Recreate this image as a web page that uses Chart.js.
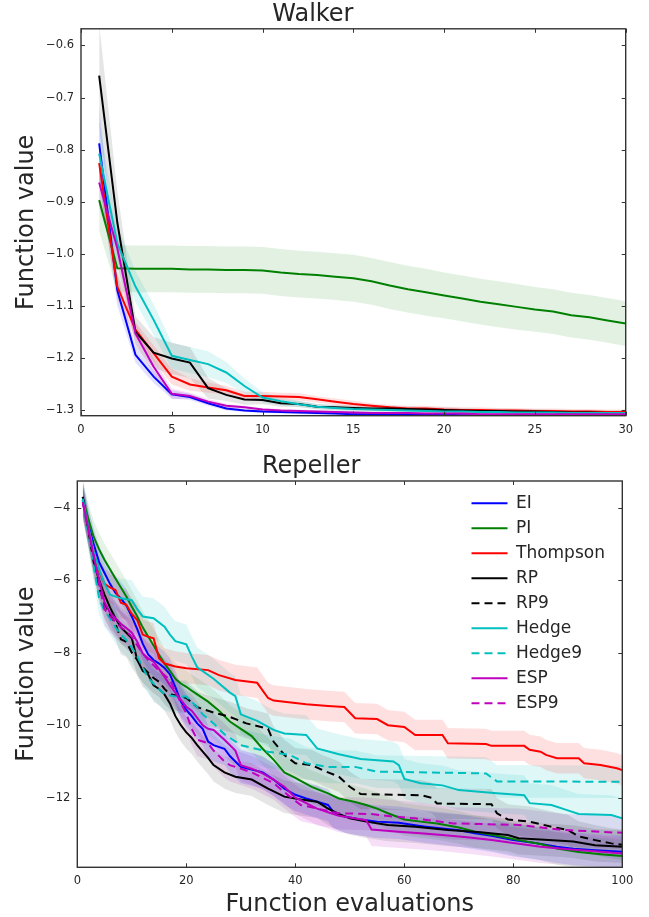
<!DOCTYPE html>
<html><head><meta charset="utf-8">
<script src="https://cdn.jsdelivr.net/npm/chart.js@4.4.1/dist/chart.umd.min.js"></script>
<style>
html,body{margin:0;padding:0;background:#fff;}
#wrap{position:relative;width:649px;height:917px;background:#fff;}
#c1{position:absolute;left:0;top:0;}
#c2{position:absolute;left:0;top:445px;}
</style></head><body>
<div id="wrap"><canvas id="c1" width="649" height="445"></canvas><canvas id="c2" width="649" height="472"></canvas></div>
<script>
// ---------------- DATA: Walker (top) ----------------
const walkerTitle = 'Walker';
const walkerX = [1,2,3,4,5,6,7,8,9,10,11,12,13,14,15,16,17,18,19,20,21,22,23,24,25,26,27,28,29,30];
const walkerEI = [-0.788,-1.07,-1.194,-1.236,-1.27,-1.275,-1.287,-1.297,-1.301,-1.303,-1.304,-1.305,-1.306,-1.307,-1.308,-1.308,-1.309,-1.309,-1.309,-1.309,-1.31,-1.31,-1.31,-1.31,-1.31,-1.31,-1.31,-1.31,-1.31,-1.31];
const walkerPI = [-0.897,-1.028,-1.029,-1.029,-1.029,-1.03,-1.03,-1.031,-1.031,-1.032,-1.036,-1.039,-1.041,-1.044,-1.047,-1.053,-1.061,-1.068,-1.074,-1.08,-1.086,-1.092,-1.097,-1.102,-1.107,-1.111,-1.118,-1.122,-1.128,-1.134];
const walkerThompson = [-0.826,-1.063,-1.146,-1.191,-1.236,-1.251,-1.257,-1.262,-1.273,-1.273,-1.274,-1.275,-1.2795,-1.284,-1.2885,-1.292,-1.295,-1.297,-1.297,-1.299,-1.3,-1.3,-1.301,-1.301,-1.302,-1.302,-1.303,-1.303,-1.304,-1.304];
const walkerRP = [-0.658,-0.94,-1.15,-1.19,-1.201,-1.209,-1.258,-1.271,-1.28,-1.281,-1.287,-1.2885,-1.2937,-1.295,-1.296,-1.297,-1.297,-1.298,-1.299,-1.3,-1.301,-1.302,-1.302,-1.303,-1.303,-1.304,-1.305,-1.305,-1.306,-1.306];
const walkerHedge = [-0.808,-0.98,-1.063,-1.127,-1.196,-1.204,-1.212,-1.228,-1.254,-1.276,-1.283,-1.289,-1.2937,-1.296,-1.298,-1.299,-1.3,-1.301,-1.302,-1.303,-1.303,-1.304,-1.304,-1.305,-1.305,-1.305,-1.306,-1.306,-1.306,-1.306];
const walkerESP = [-0.863,-0.99,-1.153,-1.217,-1.269,-1.273,-1.284,-1.292,-1.295,-1.299,-1.301,-1.302,-1.303,-1.304,-1.305,-1.306,-1.306,-1.306,-1.307,-1.307,-1.307,-1.308,-1.308,-1.308,-1.308,-1.308,-1.308,-1.308,-1.308,-1.308];
// half-widths of shaded bands
const walkerEIErr = [0.07,0.03,0.015,0.012,0.008,0.006,0.005,0.004,0.003,0.003,0.003,0.003,0.003,0.003,0.003,0.003,0.003,0.003,0.003,0.003,0.003,0.003,0.003,0.003,0.003,0.003,0.003,0.003,0.003,0.003];
const walkerPIErr = [0.06,0.045,0.045,0.045,0.045,0.045,0.045,0.045,0.045,0.045,0.045,0.045,0.045,0.045,0.045,0.045,0.045,0.045,0.045,0.044,0.044,0.044,0.044,0.044,0.043,0.043,0.043,0.043,0.043,0.043];
const walkerThompsonErr = [0.04,0.025,0.015,0.015,0.015,0.012,0.01,0.008,0.008,0.008,0.007,0.007,0.006,0.006,0.006,0.005,0.005,0.005,0.005,0.005,0.005,0.005,0.005,0.005,0.005,0.005,0.005,0.005,0.005,0.005];
const walkerRPErr = [0.1,0.06,0.03,0.03,0.03,0.03,0.02,0.012,0.01,0.008,0.007,0.006,0.005,0.005,0.005,0.005,0.005,0.005,0.005,0.005,0.005,0.005,0.005,0.005,0.005,0.005,0.005,0.005,0.005,0.005];
const walkerHedgeErr = [0.06,0.035,0.03,0.03,0.025,0.025,0.025,0.02,0.015,0.01,0.008,0.006,0.005,0.005,0.005,0.005,0.005,0.005,0.005,0.005,0.005,0.005,0.005,0.005,0.005,0.005,0.005,0.005,0.005,0.005];
const walkerESPErr = [0.05,0.03,0.02,0.015,0.01,0.006,0.005,0.004,0.003,0.003,0.003,0.003,0.003,0.003,0.003,0.003,0.003,0.003,0.003,0.003,0.003,0.003,0.003,0.003,0.003,0.003,0.003,0.003,0.003,0.003];
const walkerXTicks = [0,5,10,15,20,25,30];
const walkerYTicks = [-1.3,-1.2,-1.1,-1.0,-0.9,-0.8,-0.7,-0.6];

// ---------------- DATA: Repeller (bottom) ----------------
const repTitle = 'Repeller';
const repEI = [[1,-3.7],[2,-4.45],[3,-5.0],[4,-5.5],[5,-5.8],[6,-6.1],[7,-6.35],[8,-6.5],[9,-6.7],[10,-7.0],[11,-7.35],[12,-7.75],[13,-8.05],[14,-8.2],[15,-8.3],[16,-8.42],[17,-8.6],[18,-8.95],[19,-9.35],[20,-9.58],[21,-9.75],[22,-9.95],[23,-10.1],[24,-10.45],[25,-10.55],[27,-10.65],[28,-10.85],[30,-11.15],[32,-11.22],[34,-11.3],[36,-11.5],[38,-11.75],[40,-11.92],[42,-12.02],[44,-12.11],[46,-12.2],[47,-12.4],[49,-12.52],[52,-12.6],[55,-12.66],[59,-12.69],[62,-12.76],[64,-12.8],[67,-12.85],[70,-12.9],[73,-12.98],[76,-13.05],[80,-13.17],[84,-13.25],[88,-13.35],[91,-13.41],[95,-13.45],[100,-13.49]];
const repPI = [[1,-3.75],[2,-4.3],[3,-4.8],[4,-5.15],[5,-5.44],[6,-5.7],[7,-5.95],[8,-6.2],[9,-6.45],[10,-6.73],[11,-7.0],[12,-7.3],[13,-7.55],[14,-7.8],[15,-8.06],[16,-8.3],[17,-8.5],[18,-8.72],[19,-8.85],[20,-8.94],[21,-9.05],[22,-9.15],[24,-9.35],[26,-9.6],[28,-9.9],[30,-10.1],[32,-10.3],[34,-10.65],[36,-10.95],[38,-11.3],[40,-11.45],[43,-11.7],[46,-11.88],[48,-12.02],[51,-12.12],[53,-12.2],[55,-12.3],[57,-12.43],[60,-12.6],[63,-12.66],[66,-12.71],[70,-12.82],[73,-12.94],[77,-13.05],[81,-13.17],[85,-13.28],[88,-13.4],[92,-13.5],[96,-13.56],[100,-13.61]];
const repThompson = [[1,-3.8],[2,-4.55],[3,-5.2],[4,-5.75],[5,-6.1],[6,-6.2],[7,-6.27],[8,-6.62],[9,-6.68],[10,-6.93],[11,-7.1],[12,-7.5],[13,-7.56],[14,-7.6],[15,-8.15],[16,-8.3],[18,-8.38],[20,-8.43],[24,-8.48],[26,-8.62],[29,-8.75],[33,-8.83],[35,-9.25],[36,-9.32],[42,-9.42],[46,-9.47],[49,-9.5],[51,-9.81],[55,-9.83],[57,-10.0],[60,-10.05],[62,-10.27],[67,-10.27],[68,-10.5],[75,-10.52],[76,-10.57],[82,-10.57],[83,-10.68],[85,-10.73],[86,-10.82],[88,-10.91],[92,-10.91],[93,-11.05],[96,-11.1],[99,-11.19],[100,-11.24]];
const repRP = [[1,-3.7],[2,-4.6],[3,-5.5],[4,-6.0],[5,-6.4],[6,-6.75],[7,-7.05],[8,-7.3],[9,-7.45],[10,-7.6],[11,-8.2],[12,-8.5],[13,-8.6],[14,-8.9],[15,-9.0],[16,-9.15],[17,-9.4],[18,-9.75],[19,-10.0],[20,-10.2],[21,-10.35],[22,-10.55],[24,-10.9],[25,-11.1],[27,-11.3],[29,-11.42],[32,-11.5],[35,-11.75],[38,-11.97],[41,-12.05],[44,-12.11],[46,-12.3],[48,-12.45],[50,-12.57],[53,-12.66],[57,-12.75],[62,-12.8],[68,-12.89],[74,-12.95],[79,-13.03],[81,-13.12],[88,-13.18],[91,-13.21],[95,-13.31],[100,-13.35]];
const repRP9 = [[1,-3.8],[2,-4.6],[3,-5.4],[4,-6.2],[5,-6.65],[6,-6.95],[7,-7.2],[8,-7.63],[9,-7.7],[10,-8.0],[11,-8.2],[12,-8.4],[13,-8.55],[14,-8.7],[15,-8.8],[16,-9.0],[17,-9.15],[19,-9.2],[20,-9.25],[22,-9.5],[25,-9.65],[28,-9.77],[31,-9.95],[33,-10.02],[35,-10.1],[36,-10.45],[38,-10.82],[40,-11.05],[43,-11.1],[45,-11.24],[48,-11.42],[50,-11.7],[52,-11.9],[63,-11.93],[65,-12.0],[66,-12.16],[76,-12.18],[77,-12.43],[79,-12.6],[83,-12.66],[87,-12.8],[90,-12.89],[92,-13.07],[95,-13.17],[98,-13.26],[100,-13.3]];
const repHedge = [[1,-3.75],[2,-4.5],[3,-5.2],[4,-5.7],[5,-6.1],[6,-6.4],[8,-6.5],[10,-6.55],[11,-6.8],[12,-7.0],[14,-7.05],[16,-7.28],[17,-7.5],[18,-7.68],[20,-7.77],[21,-8.1],[22,-8.4],[25,-8.72],[28,-9.1],[29,-9.2],[30,-9.7],[33,-9.88],[36,-10.13],[38,-10.23],[42,-10.27],[44,-10.64],[48,-10.8],[52,-10.93],[58,-11.0],[59,-11.1],[60,-11.48],[63,-11.6],[67,-11.66],[70,-11.79],[77,-11.88],[82,-11.93],[83,-12.15],[87,-12.2],[90,-12.35],[92,-12.45],[98,-12.48],[100,-12.57]];
const repHedge9 = [[1,-3.8],[2,-4.7],[3,-5.6],[4,-6.5],[5,-6.85],[6,-7.05],[7,-7.3],[8,-7.5],[9,-7.65],[10,-7.85],[11,-8.1],[12,-8.4],[13,-8.7],[14,-8.85],[15,-9.0],[16,-9.15],[18,-9.21],[20,-9.21],[22,-9.5],[23,-9.7],[25,-9.95],[27,-10.25],[30,-10.55],[35,-10.73],[39,-10.82],[42,-11.05],[46,-11.15],[51,-11.15],[55,-11.28],[75,-11.33],[77,-11.55],[100,-11.56]];
const repESP = [[1,-3.85],[2,-4.55],[3,-5.35],[4,-6.0],[5,-6.6],[6,-6.9],[7,-7.05],[8,-7.2],[9,-7.32],[10,-7.45],[11,-7.7],[12,-8.02],[13,-8.15],[14,-8.25],[15,-8.45],[16,-8.66],[17,-8.9],[18,-9.1],[19,-9.3],[20,-9.49],[21,-9.6],[22,-9.8],[23,-10.0],[24,-10.1],[25,-10.13],[27,-10.4],[29,-10.7],[30,-11.1],[32,-11.2],[34,-11.33],[36,-11.5],[38,-11.7],[40,-12.0],[42,-12.15],[44,-12.3],[46,-12.4],[48,-12.5],[53,-12.62],[54,-12.88],[59,-12.94],[63,-12.98],[67,-13.03],[72,-13.1],[76,-13.17],[81,-13.27],[85,-13.35],[90,-13.42],[95,-13.48],[100,-13.54]];
const repESP9 = [[1,-3.85],[2,-4.6],[3,-5.3],[4,-6.1],[5,-6.8],[6,-7.0],[7,-7.15],[8,-7.3],[9,-7.4],[10,-7.56],[11,-7.8],[12,-8.02],[13,-8.2],[14,-8.35],[15,-8.5],[16,-8.62],[17,-8.75],[18,-9.05],[19,-9.4],[20,-9.67],[21,-10.1],[22,-10.4],[24,-10.5],[25,-10.7],[27,-11.0],[28,-11.1],[32,-11.3],[36,-11.6],[39,-11.97],[41,-12.2],[44,-12.3],[48,-12.43],[54,-12.45],[58,-12.52],[62,-12.57],[69,-12.71],[81,-12.75],[89,-12.89],[100,-12.97]];
// band half-widths per series
const repErr = {EI:0.45, PI:0.45, Thompson:0.42, RP:0.45, RP9:0.42, Hedge:0.55, Hedge9:0.45, ESP:0.45, ESP9:0.45};
const repXTicks = [0,20,40,60,80,100];
const repYTicks = [-12,-10,-8,-6,-4];

// ---------------- STYLE ----------------
const FONT = "'DejaVu Sans', sans-serif";
const TXT = '#262626';
const COL = {EI:'#0000ff', PI:'#008000', Thompson:'#ff0000', RP:'#000000', Hedge:'#00bfbf', ESP:'#bf00bf'};
const DASH = [8,5];

function rgba(hex, a){
  const n = parseInt(hex.slice(1),16);
  return `rgba(${(n>>16)&255},${(n>>8)&255},${n&255},${a})`;
}
function minus(s){ return String(s).replace('-', '\u2212'); }

function buildDatasets(series){
  const n = series.length;
  const lines = series.map((s,i)=>({
    label:s.label, data:s.pts.map(p=>({x:p[0],y:p[1]})),
    borderColor:s.color, backgroundColor:s.color, borderWidth:2, borderDash:s.dash||[],
    pointRadius:0, tension:0, fill:false, order:n-i, isLine:true
  }));
  const bands = [];
  series.forEach((s,i)=>{
    const e = k => Array.isArray(s.err) ? s.err[k] : s.err;
    const upIdx = n + 2*i;
    bands.push({label:'', data:s.pts.map((p,k)=>({x:p[0],y:p[1]+e(k)})), borderWidth:0, borderColor:'rgba(0,0,0,0)', pointRadius:0, tension:0, fill:false, order:100});
    bands.push({label:'', data:s.pts.map((p,k)=>({x:p[0],y:p[1]-e(k)})), borderWidth:0, borderColor:'rgba(0,0,0,0)', pointRadius:0, tension:0, fill:upIdx, backgroundColor:rgba(s.color,s.alpha||0.12), order:100});
  });
  return lines.concat(bands);
}

const framePlugin = {
  id:'frame',
  afterDatasetsDraw(chart){
    const {ctx, chartArea:a, scales:{x,y}} = chart;
    ctx.save();
    ctx.strokeStyle = '#333'; ctx.lineWidth = 1;
    ctx.beginPath();
    x.ticks.forEach(t=>{ const p = Math.round(x.getPixelForValue(t.value))+0.5;
      ctx.moveTo(p,a.bottom); ctx.lineTo(p,a.bottom-4); ctx.moveTo(p,a.top); ctx.lineTo(p,a.top+4); });
    y.ticks.forEach(t=>{ const p = Math.round(y.getPixelForValue(t.value))+0.5;
      ctx.moveTo(a.left,p); ctx.lineTo(a.left+4,p); ctx.moveTo(a.right,p); ctx.lineTo(a.right-4,p); });
    ctx.stroke();
    ctx.lineWidth = 1.4; ctx.strokeStyle = '#333';
    ctx.strokeRect(a.left, a.top, a.right-a.left, a.bottom-a.top);
    ctx.restore();
  }
};

function makeOptions(cfg){
  return {
    responsive:false, animation:false, devicePixelRatio:1,
    layout:{padding:{left:0,right:cfg.padRight,top:cfg.padTop,bottom:0}},
    plugins:{
      title:{display:true, text:cfg.title, color:TXT, font:{family:FONT,size:24,weight:'normal'}, padding:{top:0,bottom:0}},
      legend: cfg.legend ? {
        display:true, position:'chartArea', align:'start',
        labels:{
          usePointStyle:true, pointStyleWidth:36, padding:8, color:TXT,
          font:{family:FONT,size:17},
          generateLabels: chart => chart.data.datasets.map((d,i)=>({d,i})).filter(o=>o.d.isLine).map(o=>({
            text:o.d.label, strokeStyle:o.d.borderColor, fillStyle:o.d.borderColor, lineWidth:2,
            lineDash:o.d.borderDash, pointStyle:'line', hidden:false, datasetIndex:o.i, fontColor:TXT
          }))
        }
      } : {display:false},
      tooltip:{enabled:false}
    },
    scales:{
      x:{
        type:'linear', min:cfg.xMin, max:cfg.xMax,
        afterBuildTicks: s => { s.ticks = cfg.xTicks.map(v=>({value:v})); },
        afterFit: s => { s.height = cfg.xH; },
        grid:{display:false, drawTicks:false}, border:{display:false},
        ticks:{padding:7, color:TXT, font:{family:FONT,size:11.5}, callback:v=>minus(v), maxRotation:0, autoSkip:false},
        title: cfg.xTitle ? {display:true, text:cfg.xTitle, color:TXT, font:{family:FONT,size:24}, padding:{top:0,bottom:-2}} : {display:false}
      },
      y:{
        type:'linear', min:cfg.yMin, max:cfg.yMax,
        afterBuildTicks: s => { s.ticks = cfg.yTicks.map(v=>({value:v})); },
        afterFit: s => { s.width = cfg.yW; },
        grid:{display:false, drawTicks:false}, border:{display:false},
        ticks:{padding:7, color:TXT, font:{family:FONT,size:11.5}, callback:v=>minus(cfg.yFmt(v)), autoSkip:false},
        title:{display:true, text:'Function value', color:TXT, font:{family:FONT,size:24}, padding:{top:12,bottom:0}}
      }
    }
  };
}

// ---------------- TOP CHART ----------------
const walkerSeries = [
  {label:'EI', color:COL.EI, pts:walkerX.map((x,i)=>[x,walkerEI[i]]), err:walkerEIErr},
  {label:'PI', color:COL.PI, pts:walkerX.map((x,i)=>[x,walkerPI[i]]), err:walkerPIErr, alpha:0.11},
  {label:'Thompson', color:COL.Thompson, pts:walkerX.map((x,i)=>[x,walkerThompson[i]]), err:walkerThompsonErr},
  {label:'RP', color:COL.RP, pts:walkerX.map((x,i)=>[x,walkerRP[i]]), err:walkerRPErr, alpha:0.1},
  {label:'Hedge', color:COL.Hedge, pts:walkerX.map((x,i)=>[x,walkerHedge[i]]), err:walkerHedgeErr},
  {label:'ESP', color:COL.ESP, pts:walkerX.map((x,i)=>[x,walkerESP[i]]), err:walkerESPErr}
];
new Chart(document.getElementById('c1'), {
  type:'line',
  data:{datasets:buildDatasets(walkerSeries)},
  options:makeOptions({title:walkerTitle, padRight:23.3, padTop:0, xMin:0, xMax:30, xTicks:walkerXTicks, xH:29.3,
    yMin:-1.311, yMax:-0.568, yTicks:walkerYTicks, yW:81, yFmt:v=>Number(v).toFixed(1), legend:false}),
  plugins:[framePlugin]
});

// ---------------- BOTTOM CHART ----------------
const repSeries = [
  {label:'EI', color:COL.EI, pts:repEI, err:repErr.EI},
  {label:'PI', color:COL.PI, pts:repPI, err:repErr.PI, alpha:0.1},
  {label:'Thompson', color:COL.Thompson, pts:repThompson, err:repErr.Thompson},
  {label:'RP', color:COL.RP, pts:repRP, err:repErr.RP, alpha:0.1},
  {label:'RP9', color:COL.RP, dash:DASH, pts:repRP9, err:repErr.RP9, alpha:0.1},
  {label:'Hedge', color:COL.Hedge, pts:repHedge, err:repErr.Hedge},
  {label:'Hedge9', color:COL.Hedge, dash:DASH, pts:repHedge9, err:repErr.Hedge9},
  {label:'ESP', color:COL.ESP, pts:repESP, err:repErr.ESP},
  {label:'ESP9', color:COL.ESP, dash:DASH, pts:repESP9, err:repErr.ESP9}
];
const legendPlace = {
  id:'legendPlace',
  afterLayout(chart){ if (chart.legend){ chart.legend.left = 463.5; chart.legend.top = 41.8; } }
};
new Chart(document.getElementById('c2'), {
  type:'line',
  data:{datasets:buildDatasets(repSeries)},
  options:makeOptions({title:repTitle, padRight:26.7, padTop:7.2, xMin:0, xMax:100, xTicks:repXTicks, xH:49.7,
    xTitle:'Function evaluations', yMin:-13.92, yMax:-3.263, yTicks:repYTicks, yW:77.3, yFmt:v=>String(v), legend:true}),
  plugins:[framePlugin, legendPlace]
});
</script></body></html>
